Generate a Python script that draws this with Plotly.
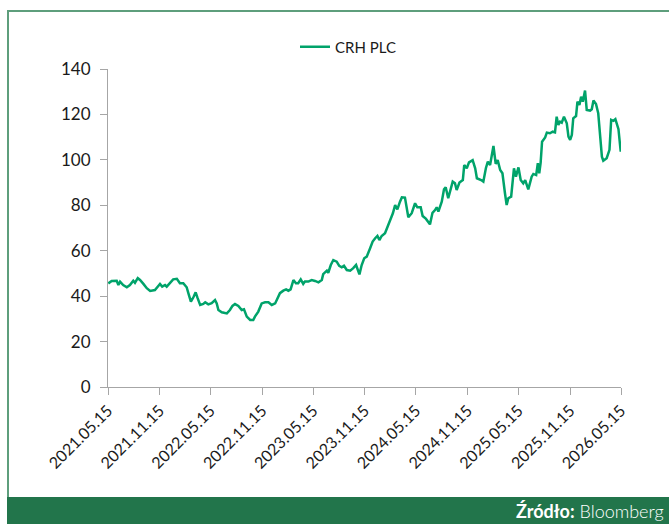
import plotly.graph_objects as go

dates = [
    "2021-05-16", "2021-05-28", "2021-06-15", "2021-06-21", "2021-06-27", "2021-07-08", "2021-07-21", "2021-08-01",
    "2021-08-13", "2021-08-19", "2021-08-29", "2021-09-06", "2021-09-18", "2021-09-30", "2021-10-12", "2021-10-29",
    "2021-11-10", "2021-11-16", "2021-11-24", "2021-12-04", "2021-12-10", "2021-12-22", "2022-01-02", "2022-01-15",
    "2022-01-26", "2022-02-07", "2022-02-19", "2022-02-25", "2022-03-06", "2022-03-15", "2022-03-23", "2022-03-30",
    "2022-04-08", "2022-04-19", "2022-04-26", "2022-05-07", "2022-05-19", "2022-05-31", "2022-06-06", "2022-06-12",
    "2022-06-24", "2022-07-12", "2022-07-23", "2022-08-01", "2022-08-10", "2022-08-22", "2022-09-03", "2022-09-11",
    "2022-09-21", "2022-10-03", "2022-10-14", "2022-10-20", "2022-11-01", "2022-11-13", "2022-11-25", "2022-12-07",
    "2022-12-19", "2022-12-31", "2023-01-08", "2023-01-17", "2023-01-29", "2023-02-08", "2023-02-16", "2023-02-24",
    "2023-03-06", "2023-03-15", "2023-03-23", "2023-04-01", "2023-04-10", "2023-04-16", "2023-04-28", "2023-05-10",
    "2023-05-22", "2023-06-03", "2023-06-15", "2023-06-20", "2023-07-03", "2023-07-08", "2023-07-17", "2023-07-26",
    "2023-08-07", "2023-08-16", "2023-08-25", "2023-09-02", "2023-09-12", "2023-09-24", "2023-10-05", "2023-10-15",
    "2023-10-27", "2023-11-04", "2023-11-13", "2023-11-22", "2023-12-04", "2023-12-13", "2023-12-22", "2023-12-30",
    "2024-01-06", "2024-01-14", "2024-01-26", "2024-02-03", "2024-02-13", "2024-02-23", "2024-03-02", "2024-03-10",
    "2024-03-19", "2024-03-26", "2024-04-06", "2024-04-12", "2024-04-18", "2024-04-30", "2024-05-12", "2024-05-20",
    "2024-06-01", "2024-06-08", "2024-06-20", "2024-07-04", "2024-07-13", "2024-07-22", "2024-07-28", "2024-08-03",
    "2024-08-15", "2024-08-23", "2024-08-29", "2024-09-07", "2024-09-16", "2024-09-23", "2024-10-01", "2024-10-07",
    "2024-10-17", "2024-10-29", "2024-11-03", "2024-11-12", "2024-11-20", "2024-12-03", "2024-12-12", "2024-12-18",
    "2025-01-02", "2025-01-10", "2025-01-19", "2025-01-26", "2025-02-03", "2025-02-15", "2025-02-23", "2025-03-02",
    "2025-03-11", "2025-03-19", "2025-03-28", "2025-04-03", "2025-04-09", "2025-04-19", "2025-04-29", "2025-05-06",
    "2025-05-15", "2025-05-23", "2025-06-01", "2025-06-08", "2025-06-19", "2025-07-01", "2025-07-07", "2025-07-17",
    "2025-07-23", "2025-07-28", "2025-08-02", "2025-08-07", "2025-08-18", "2025-08-24", "2025-09-04", "2025-09-14",
    "2025-09-22", "2025-09-28", "2025-10-04", "2025-10-10", "2025-10-16", "2025-10-24", "2025-11-03", "2025-11-09",
    "2025-11-15", "2025-11-21", "2025-11-26", "2025-12-06", "2025-12-11", "2025-12-18", "2025-12-24", "2025-12-30",
    "2026-01-07", "2026-01-13", "2026-01-25", "2026-01-31", "2026-02-06", "2026-02-15", "2026-02-23", "2026-03-02",
    "2026-03-08", "2026-03-13", "2026-03-25", "2026-04-04", "2026-04-10", "2026-04-18", "2026-04-25", "2026-05-06",
    "2026-05-14",
]

crh_plc = [
    45.6, 46.7, 46.8, 44.9, 46.4, 44.9, 43.9, 44.9,
    46.8, 45.9, 47.9, 47.1, 45.4, 43.5, 42.3, 42.7,
    44.5, 45.4, 44.2, 44.9, 44.2, 45.9, 47.4, 47.6,
    45.7, 45.7, 43.9, 41.3, 37.6, 39.5, 41.7, 39.1,
    36.1, 36.6, 37.3, 36.4, 36.9, 38.3, 36.8, 33.9,
    32.9, 32.4, 33.9, 35.7, 36.5, 35.7, 33.9, 34.2,
    31.0, 29.5, 29.5, 31.0, 33.2, 36.8, 37.3, 37.3,
    36.1, 36.8, 39.0, 41.3, 42.4, 43.0, 42.4, 43.0,
    47.1, 45.7, 45.7, 47.4, 45.4, 46.4, 46.4, 47.1,
    46.7, 46.1, 47.1, 49.7, 51.2, 50.3, 53.7, 55.9,
    55.2, 53.3, 52.7, 53.4, 51.5, 51.2, 52.3, 53.7,
    49.6, 53.7, 56.7, 57.4, 61.1, 64.0, 65.5, 66.5,
    64.7, 66.5, 67.7, 70.3, 73.8, 76.5, 80.1, 78.2,
    81.5, 83.5, 83.4, 79.4, 74.7, 76.5, 80.9, 79.1,
    79.1, 75.3, 74.0, 71.6, 76.7, 77.9, 79.1, 77.2,
    81.6, 87.0, 87.9, 83.1, 86.7, 90.4, 89.7, 86.7,
    90.0, 91.1, 97.7, 96.3, 98.9, 99.9, 96.3, 91.9,
    91.1, 90.4, 96.3, 99.2, 97.7, 106.1, 98.2, 99.9,
    95.5, 94.1, 85.3, 80.1, 83.1, 83.8, 96.3, 92.6,
    96.7, 91.1, 89.7, 91.1, 87.0, 92.6, 93.8, 93.3,
    98.5, 94.1, 98.8, 108.0, 109.9, 112.0, 111.7, 112.4,
    112.1, 119.0, 115.4, 116.8, 116.4, 119.0, 116.1, 110.2,
    108.8, 111.0, 118.3, 119.3, 125.6, 124.2, 127.8, 125.6,
    130.5, 122.0, 121.7, 122.3, 126.1, 124.6, 120.5, 111.7,
    101.4, 99.6, 100.7, 104.4, 117.6, 117.2, 117.9, 113.5,
    103.6,
]

tick_dates = ["2021-05-15", "2021-11-15", "2022-05-15", "2022-11-15", "2023-05-15", "2023-11-15",
              "2024-05-15", "2024-11-15", "2025-05-15", "2025-11-15", "2026-05-15"]
tick_labels = ["2021.05.15", "2021.11.15", "2022.05.15", "2022.11.15", "2023.05.15", "2023.11.15",
               "2024.05.15", "2024.11.15", "2025.05.15", "2025.11.15", "2026.05.15"]
y_ticks = [0, 20, 40, 60, 80, 100, 120, 140]

series_name = "CRH PLC"
source_text = "<b>Źródło:</b> Bloomberg"

FONT = "Lato, 'Noto Sans', sans-serif"
LINE_GREEN = "#00A36A"
DARK_GREEN = "#22754B"
FRAME_GREEN = "#5E9E7C"
AXIS_GRAY = "#A6A6A6"
TEXT = "#1a1a1a"

fig = go.Figure()
fig.add_trace(go.Scatter(
    x=dates, y=crh_plc, mode="lines", name=series_name,
    line=dict(color=LINE_GREEN, width=2.5),
))

W, H = 669, 524
L, R, T, B = 108, 48, 69, 137
pw, ph = W - L - R, H - T - B


def px(x):
    return (x - L) / pw


def py(y):
    return (H - B - y) / ph


fig.update_layout(
    width=W, height=H, autosize=False,
    margin=dict(l=L, r=R, t=T, b=B, pad=0),
    paper_bgcolor="white", plot_bgcolor="white",
    font=dict(family=FONT, size=16, color=TEXT),
    showlegend=True,
    legend=dict(
        orientation="h", x=px(348), xanchor="center", y=py(47), yanchor="middle",
        font=dict(family=FONT, size=15, color=TEXT),
        itemwidth=30, bgcolor="rgba(0,0,0,0)",
    ),
    xaxis=dict(
        type="date", range=["2021-05-15", "2026-05-15"],
        tickmode="array", tickvals=tick_dates, ticktext=tick_labels,
        tickangle=-45, tickfont=dict(family=FONT, size=16, color=TEXT),
        showgrid=False, zeroline=False, showline=True, linecolor=AXIS_GRAY, linewidth=1,
        ticks="outside", ticklen=7, tickcolor=AXIS_GRAY, tickwidth=1,
    ),
    yaxis=dict(
        range=[0, 140], tickmode="array", tickvals=y_ticks,
        tickfont=dict(family=FONT, size=17, color=TEXT),
        showgrid=False, zeroline=False, showline=True, linecolor=AXIS_GRAY, linewidth=1,
        ticks="outside", ticklen=7, tickcolor=AXIS_GRAY, tickwidth=1,
        ticklabelstandoff=6,
    ),
    shapes=[
        dict(type="rect", xref="paper", yref="paper", x0=px(7), x1=px(670), y0=py(497), y1=py(525),
             fillcolor=DARK_GREEN, line=dict(width=0), layer="above"),
        dict(type="line", xref="paper", yref="paper", x0=px(8), x1=px(8), y0=py(10), y1=py(497),
             line=dict(color=FRAME_GREEN, width=2)),
        dict(type="line", xref="paper", yref="paper", x0=px(7), x1=px(670), y0=py(11), y1=py(11),
             line=dict(color=FRAME_GREEN, width=2)),
    ],
    annotations=[
        dict(text=source_text, xref="paper", yref="paper", x=px(666), y=py(511),
             xanchor="right", yanchor="middle", showarrow=False,
             font=dict(family=FONT, size=18, color="white", weight=300)),
    ],
)

fig.write_html(
    "out.html",
    config={"displayModeBar": False},
    post_script="document.body.style.margin='0';document.body.style.overflow='hidden';",
)
